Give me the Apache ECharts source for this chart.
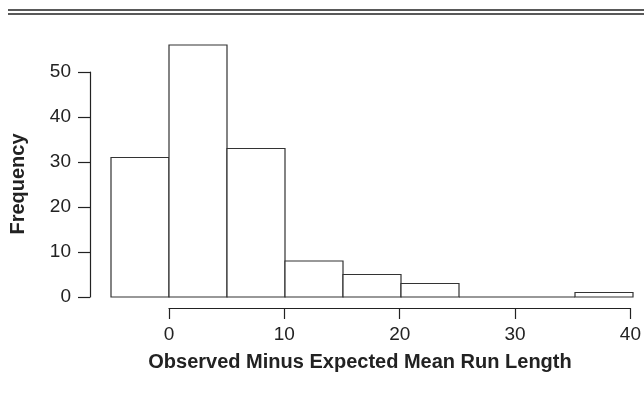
<!doctype html>
<html>
<head>
<meta charset="UTF-8">
<title>Observed Minus Expected Mean Run Length</title>
<script src="https://cdn.jsdelivr.net/npm/echarts@6/dist/echarts.min.js"></script>
<style>
  html, body { margin: 0; padding: 0; background: #fff; }
  #main { width: 644px; height: 396px; }
</style>
</head>
<body>
<div id="main"></div>
<script>
// histogram bins (left edges), width 5
var binStarts = [-5, 0, 5, 10, 15, 20, 25, 30, 35];
var binWidth = 5;
var counts = [31, 56, 33, 8, 5, 3, 0, 0, 1];
var xTicks = [0, 10, 20, 30, 40];
var yTicks = [0, 10, 20, 30, 40, 50];

var ink = '#222';
var font = '"Liberation Sans", Arial, Helvetica, sans-serif';

var data = binStarts.map(function (s, i) {
    return [s, s + binWidth, counts[i]];
});

var chart = echarts.init(document.getElementById('main'), null, { renderer: 'canvas' });

var option = {
    animation: false,
    grid: [
        { left: 111, right: 11, top: 72, bottom: 99 },   // bars + y axis
        { left: 169, right: 11, top: 72, bottom: 99 }    // x axis 0..40
    ],
    xAxis: [
        { gridIndex: 0, type: 'value', min: -5, max: 40, show: false },
        {
            gridIndex: 1, type: 'value', min: xTicks[0], max: xTicks[xTicks.length - 1], interval: 10,
            position: 'bottom', offset: 11,
            axisLine: { show: true, onZero: false, lineStyle: { color: ink, width: 1.2 } },
            axisTick: { show: true, length: 11, inside: false, lineStyle: { color: ink, width: 1.2 } },
            axisLabel: { show: true, margin: 17, color: ink, fontSize: 19, fontFamily: font },
            splitLine: { show: false }
        }
    ],
    yAxis: [
        {
            gridIndex: 0, type: 'value', min: yTicks[0], max: yTicks[yTicks.length - 1], interval: 10,
            position: 'left', offset: 21,
            axisLine: { show: true, onZero: false, lineStyle: { color: ink, width: 1.2 } },
            axisTick: { show: true, length: 12, inside: false, lineStyle: { color: ink, width: 1.2 } },
            axisLabel: { show: true, margin: 19, color: ink, fontSize: 19, fontFamily: font },
            splitLine: { show: false }
        },
        { gridIndex: 1, type: 'value', min: 0, max: 50, show: false }
    ],
    series: [{
        type: 'custom',
        xAxisIndex: 0,
        yAxisIndex: 0,
        clip: false,
        renderItem: function (params, api) {
            var p0 = api.coord([api.value(0), 0]);
            var p1 = api.coord([api.value(1), api.value(2)]);
            return {
                type: 'rect',
                shape: { x: p0[0], y: p1[1], width: p1[0] - p0[0], height: p0[1] - p1[1] },
                style: { fill: '#fff', stroke: '#333', lineWidth: 1.2 }
            };
        },
        encode: { x: [0, 1], y: 2 },
        data: data
    }],
    graphic: [
        { type: 'line', shape: { x1: 8, y1: 10, x2: 644, y2: 10 }, style: { stroke: ink, lineWidth: 1.5 } },
        { type: 'line', shape: { x1: 8, y1: 14, x2: 644, y2: 14 }, style: { stroke: ink, lineWidth: 1.5 } },
        {
            type: 'text', x: 360, y: 362,
            style: {
                text: 'Observed Minus Expected Mean Run Length',
                font: 'bold 20px ' + font, fill: ink,
                textAlign: 'center', textVerticalAlign: 'middle'
            }
        },
        {
            type: 'text', x: 18, y: 184, rotation: Math.PI / 2,
            style: {
                text: 'Frequency',
                font: 'bold 20px ' + font, fill: ink,
                textAlign: 'center', textVerticalAlign: 'middle'
            }
        }
    ]
};

chart.setOption(option);
</script>
</body>
</html>
